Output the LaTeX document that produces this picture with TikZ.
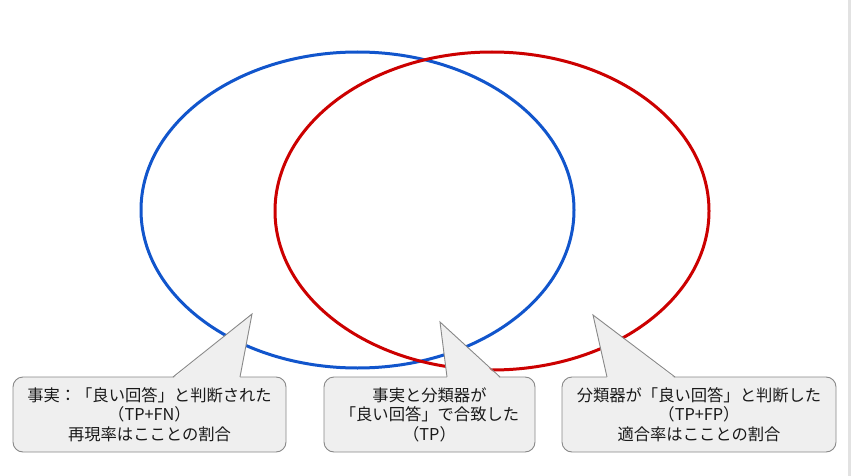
\documentclass[tikz,border=0pt]{standalone}
\usepackage{fontspec}
\setmainfont{Noto Sans CJK JP}
\definecolor{vblue}{HTML}{1155CC}
\definecolor{vred}{HTML}{CC0000}
\definecolor{cfill}{HTML}{EFEFEF}
\definecolor{cline}{HTML}{888888}
\definecolor{edge}{HTML}{E2E2E2}
\tikzset{
  ring/.style={line width=3pt},
  callout/.style={draw=cline, fill=cfill, line width=0.9pt, rounded corners=10pt,
    align=center, text=black!90, inner sep=0pt,
    font=\fontsize{16.3}{19.5}\selectfont},
  ptrfill/.style={fill=cfill, draw=none},
  ptrline/.style={draw=cline, line width=0.9pt, line join=miter},
}
\begin{document}
\begin{tikzpicture}[x=1pt,y=-1pt]
\useasboundingbox (0,0) rectangle (851,476);
\fill[white] (0,0) rectangle (851,476);
\fill[edge] (848,0) rectangle (851,476);
% ellipses
\draw[ring, vblue] (357.5,210) ellipse [x radius=216.5pt, y radius=158pt];
\draw[ring, vred] (492,211) ellipse [x radius=217pt, y radius=159pt];
% callout boxes
\node[callout, minimum width=273pt, minimum height=75pt] (c1) at (149.5,414.5)
  {事実：「良い回答」と判断された\\（TP+FN）\\再現率はこことの割合};
\node[callout, minimum width=211pt, minimum height=75pt] (c2) at (429.5,414.5)
  {事実と分類器が\\「良い回答」で合致した\\（TP）};
\node[callout, minimum width=274pt, minimum height=75pt] (c3) at (699,414.5)
  {分類器が「良い回答」と判断した\\（TP+FP）\\適合率はこことの割合};
% pointers
\coordinate (t1) at (252,314);
\coordinate (a1) at (173,377);
\coordinate (b1) at (240,377);
\coordinate (t2) at (440,322);
\coordinate (a2) at (447,377);
\coordinate (b2) at (500,377);
\coordinate (t3) at (593,315);
\coordinate (a3) at (607,377);
\coordinate (b3) at (675,377);
\foreach \i in {1,2,3}{
  \fill[ptrfill] ([yshift=-1.5pt]a\i) -- (t\i) -- ([yshift=-1.5pt]b\i) -- cycle;
  \draw[ptrline] (a\i) -- (t\i) -- (b\i);
}
\end{tikzpicture}
\end{document}
